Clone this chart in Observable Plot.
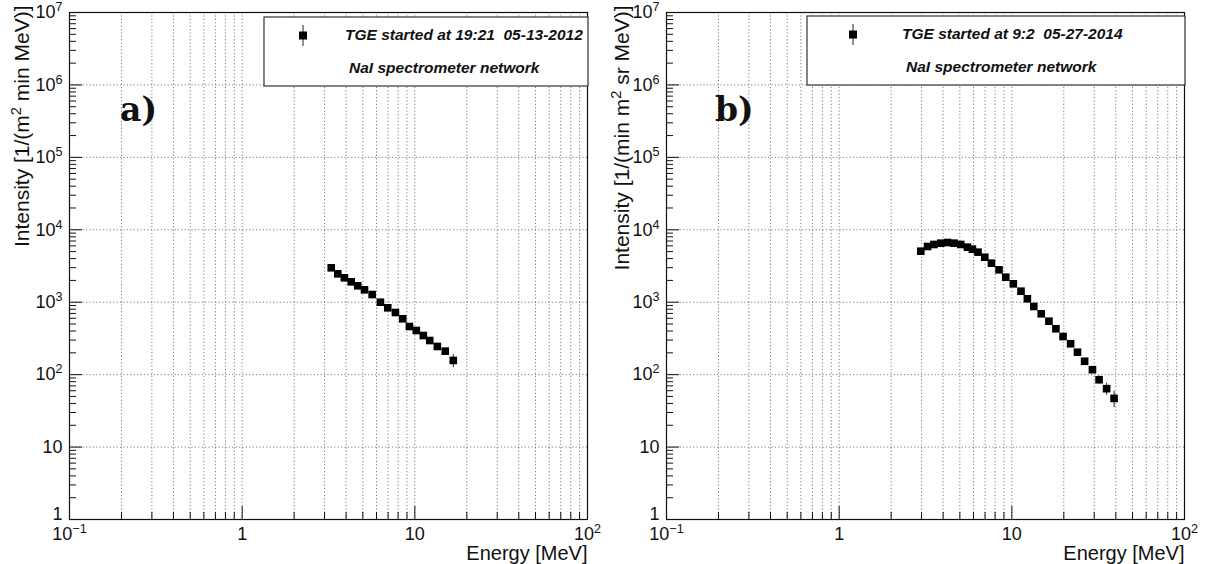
<!DOCTYPE html>
<html><head><meta charset="utf-8">
<script src="https://cdn.jsdelivr.net/npm/d3@7"></script>
<script src="https://cdn.jsdelivr.net/npm/@observablehq/plot@0.6"></script>
<style>
body{margin:0;background:#fff;}
#wrap{display:flex;width:1206px;height:564px;overflow:hidden;}
svg text{font-family:"Liberation Sans",Arial,sans-serif;}
</style></head><body><div id="wrap"></div>
<script>
// Panel a) TGE 05-13-2012
const energyA = [3.28,3.58,3.91,4.28,4.67,5.11,5.66,6.32,6.97,7.72,8.51,9.30,10.2,11.2,12.2,13.5,15.0,16.7];
const intensityA = [2985,2466,2173,1914,1686,1484,1277,1000,837,721,590,462,407,347,296,245,211,157];
const errorA = [30,25,22,20,18,16,14,12,11,10,9,9,9,10,11,14,20,32];
// Panel b) TGE 05-27-2014
const energyB = [2.97,3.25,3.54,3.88,4.24,4.63,5.06,5.53,5.91,6.37,6.97,7.62,8.43,9.22,10.2,11.3,12.3,13.4,14.8,16.4,18.0,19.8,21.9,24.0,26.4,29.3,32.0,35.4,39.1];
const intensityB = [5060,5880,6270,6530,6670,6530,6270,5750,5400,4910,4180,3460,2800,2215,1795,1420,1115,873,692,547,430,336,267,204,153,117,85,64,47];
const errorB = [60,60,60,60,60,60,60,55,50,45,40,35,30,28,25,22,20,18,16,14,13,12,11,10,10,11,11,12,12];

const xTicks = [0.1,1,10,100];
const xTickLabels = ["10^-1","1","10","10^2"];
const yTicks = [1,10,100,1e3,1e4,1e5,1e6,1e7];
const yTickLabels = ["1","10","10^2","10^3","10^4","10^5","10^6","10^7"];
const minorSteps = [2,3,4,5,6,7,8,9];

const xTitle = "Energy [MeV]";
const yTitleA = "Intensity [1/(m^2 min MeV)]";
const yTitleB = "Intensity [1/(min m^2 sr MeV)]";
const legendA = ["TGE started at 19:21  05-13-2012", "NaI spectrometer network"];
const legendB = ["TGE started at 9:2  05-27-2014", "NaI spectrometer network"];

const xMinor = [];
for (const d of [0.1,1,10]) for (const s of minorSteps) xMinor.push(d*s);
const yMinor = [];
for (const d of yTicks.slice(0,-1)) for (const s of minorSteps) yMinor.push(d*s);

const NS = "http://www.w3.org/2000/svg";
function supify(svg){
  svg.querySelectorAll("text").forEach(t=>{
    const txt = t.textContent;
    if(!txt.includes("^")) return;
    const parts = txt.split(/\^(−?-?\d+)/);
    t.textContent = "";
    parts.forEach((p,i)=>{
      if(p==="") return;
      const sp = document.createElementNS(NS,"tspan");
      if(i%2===1){
        sp.textContent = p.replace("-","\u2212");
        sp.setAttribute("dy","-0.55em"); sp.setAttribute("font-size","0.7em");
      } else {
        sp.textContent = p;
        if(i>0) sp.setAttribute("dy","0.385em");
      }
      t.appendChild(sp);
    });
  });
}

function panel(o){
  const W=603,H=564,mt=12,mb=45;
  const innerW=W-o.ml-o.mr, innerH=H-mt-mb;
  const rows = o.energy.map((e,i)=>({e, v:o.intensity[i], lo:o.intensity[i]-o.err[i], hi:o.intensity[i]+o.err[i]}));
  const grid = {stroke:"#666", strokeOpacity:0.85, strokeDasharray:"1.2,2.2", strokeWidth:1};
  const yFmt = d=>yTickLabels[yTicks.indexOf(d)];
  const svg = Plot.plot({
    width:W,height:H,marginLeft:o.ml,marginRight:o.mr,marginTop:mt,marginBottom:mb,
    style:{background:"#fff",overflow:"visible",fontFamily:"Liberation Sans, Arial, sans-serif"},
    x:{type:"log",domain:[0.1,100]},
    y:{type:"log",domain:[1,1e7]},
    marks:[
      Plot.gridX(xMinor.concat([1,10]), grid),
      Plot.gridY(yTicks.slice(1,-1), grid),
      Plot.tickX(xMinor,{x:d=>d,insetTop:innerH-7,stroke:"#111"}),
      Plot.tickX(xTicks,{x:d=>d,insetTop:innerH-13,stroke:"#111"}),
      Plot.tickY(yMinor,{y:d=>d,insetRight:innerW-7,stroke:"#111"}),
      Plot.tickY(yTicks,{y:d=>d,insetRight:innerW-13,stroke:"#111"}),
      Plot.frame({stroke:"#111",strokeWidth:1.2}),
      Plot.axisX(xTicks,{tickSize:0,tickPadding:8,fontSize:18,fill:"#111",label:null,
        tickFormat:d=>xTickLabels[xTicks.indexOf(d)]}),
      Plot.axisY(yTicks.slice(1),{tickSize:0,tickPadding:7,fontSize:18,fill:"#111",label:null,tickFormat:yFmt}),
      Plot.axisY(yTicks.slice(0,1),{tickSize:0,tickPadding:7,fontSize:18,fill:"#111",label:null,dy:-5,tickFormat:yFmt}),
      Plot.ruleX(rows,{x:"e",y1:"lo",y2:"hi",stroke:"#222",strokeWidth:1}),
      Plot.dot(rows,{x:"e",y:"v",symbol:"square",r:4.3,fill:"#000",stroke:null}),
      Plot.text([xTitle],{frameAnchor:"bottom-right",textAnchor:"end",lineAnchor:"middle",dy:34,fontSize:20,fill:"#111"}),
      Plot.text([o.ytitle],{frameAnchor:"top-left",rotate:-90,textAnchor:"end",lineAnchor:"middle",dx:o.ytdx,dy:-7,fontSize:21,fill:"#111"})
    ]
  });
  supify(svg);
  const s = d3.select(svg);
  const L = o.leg;
  s.append("rect").attr("x",L.x).attr("y",L.y).attr("width",L.w).attr("height",L.h)
    .attr("fill","#fff").attr("stroke","#333").attr("stroke-width",1.2);
  s.append("line").attr("x1",L.mx).attr("x2",L.mx).attr("y1",L.y+8).attr("y2",L.y+29).attr("stroke","#222");
  s.append("rect").attr("x",L.mx-4).attr("y",L.y+14.5).attr("width",8).attr("height",8).attr("fill","#000");
  o.legend.forEach((t,i)=>{
    s.append("text").attr("x",L.tx+(i?4:0)).attr("y",L.y+23+i*33).text(t).attr("text-anchor","start")
      .attr("font-size",15.5).attr("font-weight","bold").attr("font-style","italic").attr("fill","#111");
  });
  s.append("text").attr("x",o.tagx).attr("y",121).text(o.tag).attr("text-anchor","start")
    .attr("font-size",33).attr("font-weight","bold").attr("fill","#111")
    .style("font-family","'DejaVu Serif',serif");
  return svg;
}

const wrap = document.getElementById("wrap");
wrap.appendChild(panel({energy:energyA,intensity:intensityA,err:errorA,ml:69,mr:16,ytitle:yTitleA,ytdx:-47,
  legend:legendA,leg:{x:264,y:17,w:324,h:69,mx:303,tx:345},tag:"a)",tagx:120}));
wrap.appendChild(panel({energy:energyB,intensity:intensityB,err:errorB,ml:63,mr:22,ytitle:yTitleB,ytdx:-44,
  legend:legendB,leg:{x:204,y:16,w:378,h:69,mx:250,tx:299},tag:"b)",tagx:112}));
</script></body></html>
